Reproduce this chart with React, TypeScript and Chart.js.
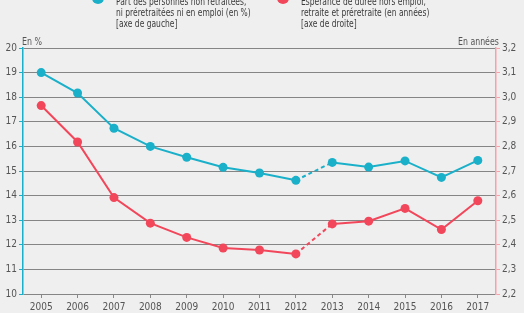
import React, { useEffect, useRef } from "react";
import { Chart, registerables } from "chart.js";

Chart.register(...registerables);

const years = ["2005", "2006", "2007", "2008", "2009", "2010", "2011", "2012", "2013", "2014", "2015", "2016", "2017"];
const partNonRetraites = [19.0, 18.17, 16.74, 16.0, 15.56, 15.15, 14.92, 14.62, 15.35, 15.16, 15.41, 14.74, 15.43];
const esperanceDuree = [2.966, 2.818, 2.592, 2.488, 2.43, 2.387, 2.379, 2.363, 2.485, 2.496, 2.548, 2.462, 2.579];
const legendBlue = ["Part des personnes non retraitées,", "ni préretraitées ni en emploi (en %)", "[axe de gauche]"];
const legendRed = ["Espérance de durée hors emploi,", "retraite et préretraite (en années)", "[axe de droite]"];

const BLUE = "#1bb0c9";
const RED = "#f2475b";
const FONT = "'Liberation Sans Narrow', 'DejaVu Sans Condensed', sans-serif";

export default function App() {
  const ref = useRef<HTMLCanvasElement | null>(null);

  useEffect(() => {
    document.body.style.margin = "0";
    const dash = (ctx: any) => (ctx.p0DataIndex === 7 ? [4, 3] : undefined);
    const chart = new Chart(ref.current as HTMLCanvasElement, {
      type: "line",
      data: {
        labels: years,
        datasets: [
          {
            label: "blue",
            data: partNonRetraites,
            yAxisID: "y",
            borderColor: BLUE,
            backgroundColor: BLUE,
            borderWidth: 2,
            pointRadius: 4.5,
            pointBorderWidth: 0,
            segment: { borderDash: dash },
          },
          {
            label: "red",
            data: esperanceDuree,
            yAxisID: "y1",
            borderColor: RED,
            backgroundColor: RED,
            borderWidth: 2,
            pointRadius: 4.5,
            pointBorderWidth: 0,
            segment: { borderDash: dash },
          },
        ],
      },
      options: {
        animation: false,
        responsive: false,
        layout: { padding: { top: 48, left: 0, right: 0, bottom: 0 } },
        plugins: { legend: { display: false }, tooltip: { enabled: false } },
        scales: {
          x: {
            offset: true,
            grid: { display: true, drawOnChartArea: false, offset: false, tickLength: 4, color: "#888" },
            border: { display: false },
            ticks: { color: "#555", font: { family: FONT, size: 10 }, padding: 3, maxRotation: 0 },
            afterFit: (s: any) => { s.height = 19; },
          },
          y: {
            position: "left",
            min: 10,
            max: 20,
            ticks: { stepSize: 1, color: "#555", font: { family: FONT, size: 10 }, padding: 2 },
            grid: { color: "#858585", lineWidth: 1, tickLength: 4, tickColor: BLUE },
            border: { color: BLUE, width: 1.5 },
            afterFit: (s: any) => { s.width = 23; },
          },
          y1: {
            position: "right",
            min: 2.2,
            max: 3.2,
            ticks: {
              stepSize: 0.1,
              color: "#555",
              font: { family: FONT, size: 10 },
              padding: 2,
              callback: (v: any) => Number(v).toFixed(1).replace(".", ","),
            },
            grid: { drawOnChartArea: false, tickLength: 4, tickColor: "#f7a0aa" },
            border: { color: "#f7a0aa", width: 1.5 },
            afterFit: (s: any) => { s.width = 28; },
          },
        },
      },
    });
    return () => chart.destroy();
  }, []);

  const txt: React.CSSProperties = {
    position: "absolute",
    fontFamily: FONT,
    fontSize: 10,
    lineHeight: "11px",
    color: "#3a3a3a",
    whiteSpace: "nowrap",
    transformOrigin: "left top",
  };

  return (
    <div style={{ position: "relative", width: 524, height: 313, background: "#efefef", overflow: "hidden" }}>
      <canvas ref={ref} width={524} height={313} style={{ position: "absolute", left: 0, top: 0 }} />
      <div style={{ position: "absolute", left: 88, top: -5, width: 20, height: 2.5, background: BLUE }} />
      <div style={{ position: "absolute", left: 92, top: -8, width: 12, height: 12, borderRadius: 6, background: BLUE }} />
      <div style={{ position: "absolute", left: 273, top: -5, width: 20, height: 2.5, background: RED }} />
      <div style={{ position: "absolute", left: 277, top: -8, width: 12, height: 12, borderRadius: 6, background: RED }} />
      <div style={{ ...txt, left: 116, top: -4, transform: "scaleX(0.84)" }}>
        {legendBlue.map((l) => (<div key={l}>{l}</div>))}
      </div>
      <div style={{ ...txt, left: 301, top: -4, transform: "scaleX(0.84)" }}>
        {legendRed.map((l) => (<div key={l}>{l}</div>))}
      </div>
      <div style={{ ...txt, left: 22, top: 36, color: "#555", transform: "scaleX(0.88)" }}>En %</div>
      <div style={{ ...txt, left: 458, top: 36, color: "#555", transform: "scaleX(0.87)" }}>En années</div>
    </div>
  );
}
